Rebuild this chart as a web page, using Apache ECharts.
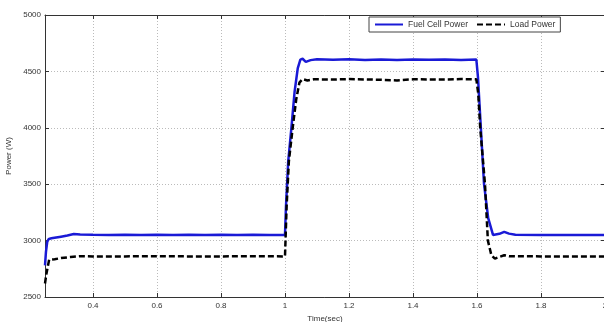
<!DOCTYPE html>
<html>
<head>
<meta charset="utf-8">
<script src="https://cdn.jsdelivr.net/npm/echarts@6/dist/echarts.min.js"></script>
<style>html,body{margin:0;padding:0;background:#fff;}#c{width:604px;height:322px;}</style>
</head>
<body>
<div id="c"></div>
<script>
// Time (sec) and power (W)
var fuelTime = [0.250,0.253,0.257,0.262,0.270,0.280,0.300,0.320,0.340,0.360,0.400,0.450,0.500,0.550,0.600,0.650,0.700,0.750,0.800,0.850,0.900,0.950,1.000,
  1.003,1.010,1.020,1.030,1.040,1.048,1.055,1.065,1.080,1.100,1.150,1.200,1.250,1.300,1.350,1.400,1.450,1.500,1.550,1.598,
  1.603,1.612,1.622,1.635,1.650,1.656,1.670,1.685,1.700,1.720,1.800,1.900,2.000];
var fuelPower = [2780,2900,2990,3015,3020,3025,3035,3045,3058,3055,3052,3050,3051,3050,3052,3050,3051,3050,3052,3050,3051,3050,3050,
  3300,3700,4000,4320,4530,4605,4612,4585,4600,4608,4603,4607,4602,4606,4600,4605,4603,4606,4601,4605,
  4450,4000,3500,3200,3050,3035,3060,3078,3062,3052,3050,3050,3050];

var loadTime = [0.250,0.254,0.258,0.263,0.280,0.300,0.330,0.360,0.400,0.500,0.600,0.700,0.800,0.900,1.000,
  1.005,1.012,1.024,1.035,1.045,1.055,1.070,1.090,1.150,1.200,1.300,1.350,1.400,1.500,1.550,1.598,
  1.604,1.610,1.625,1.634,1.645,1.656,1.670,1.685,1.700,1.800,1.900,2.000];
var loadPower = [2620,2700,2760,2830,2835,2845,2855,2862,2860,2860,2861,2860,2860,2861,2860,
  3300,3700,4000,4250,4400,4432,4420,4430,4428,4432,4426,4420,4430,4428,4432,4430,
  4300,4000,3500,3000,2870,2840,2855,2870,2862,2860,2860,2860];

var xTicks = [0.4,0.6,0.8,1,1.2,1.4,1.6,1.8,2];
var yMin = 2500, yMax = 5000, yStep = 500;
var seriesNames = ['Fuel Cell Power','Load Power'];

function pairs(t, v){ return t.map(function(x,i){return [x, v[i]];}); }

var font = 'Liberation Sans, Arial, sans-serif';
var chart = echarts.init(document.getElementById('c'), null, {renderer:'canvas'});
chart.setOption({
  animation:false,
  backgroundColor:'#fff',
  grid:{left:45, top:15, width:560, height:282, show:false, containLabel:false, outerBoundsMode:'none'},
  legend:{
    left:369, top:17,
    data:seriesNames,
    backgroundColor:'#fff', borderColor:'#444', borderWidth:1, borderRadius:0,
    padding:[3,5,3,5], itemGap:8, itemWidth:28, itemHeight:10,
    itemStyle:{opacity:0},
    textStyle:{fontFamily:font, fontSize:8.5, color:'#333'}
  },
  xAxis:[{
    type:'value', min:0.25, max:2.0, position:'bottom',
    name:'Time(sec)', nameLocation:'middle', nameGap:14,
    nameTextStyle:{fontFamily:font, fontSize:8, color:'#333'},
    axisLine:{show:true, onZero:false, lineStyle:{color:'#333'}},
    axisTick:{show:true, inside:true, length:4, lineStyle:{color:'#333'}, customValues:xTicks},
    axisLabel:{fontFamily:font, fontSize:8, color:'#333', margin:5, customValues:xTicks,
      formatter:function(v){return String(Math.round(v*10)/10);}},
    splitLine:{show:true, lineStyle:{color:'#bbb', type:[1,2], width:1}}
  },{
    type:'value', min:0.25, max:2.0, position:'top',
    axisLine:{show:true, onZero:false, lineStyle:{color:'#333'}},
    axisTick:{show:true, inside:true, length:4, lineStyle:{color:'#333'}, customValues:xTicks},
    axisLabel:{show:false, customValues:xTicks},
    splitLine:{show:false}
  }],
  yAxis:[{
    type:'value', min:yMin, max:yMax, interval:yStep, position:'left',
    name:'Power (W)', nameLocation:'middle', nameGap:24, nameRotate:90,
    nameTextStyle:{fontFamily:font, fontSize:8, color:'#333'},
    axisLine:{show:true, onZero:false, lineStyle:{color:'#333'}},
    axisTick:{show:true, inside:true, length:4, lineStyle:{color:'#333'}},
    axisLabel:{fontFamily:font, fontSize:8, color:'#333', margin:4, formatter:function(v){return String(v);}},
    splitLine:{show:true, lineStyle:{color:'#bbb', type:[1,2], width:1}}
  },{
    type:'value', min:yMin, max:yMax, interval:yStep, position:'right',
    axisLine:{show:true, onZero:false, lineStyle:{color:'#333'}},
    axisTick:{show:true, inside:true, length:4, lineStyle:{color:'#333'}},
    axisLabel:{show:false},
    splitLine:{show:false}
  }],
  series:[{
    name:seriesNames[0], type:'line', showSymbol:false, symbol:'none',
    data:pairs(fuelTime, fuelPower),
    lineStyle:{color:'#1a1ad6', width:2.5}, itemStyle:{color:'#1a1ad6'}, z:3
  },{
    name:seriesNames[1], type:'line', showSymbol:false, symbol:'none',
    data:pairs(loadTime, loadPower),
    lineStyle:{color:'#000', width:2.5, type:[6,3]}, itemStyle:{color:'#000'}, z:4
  }]
});
</script>
</body>
</html>
